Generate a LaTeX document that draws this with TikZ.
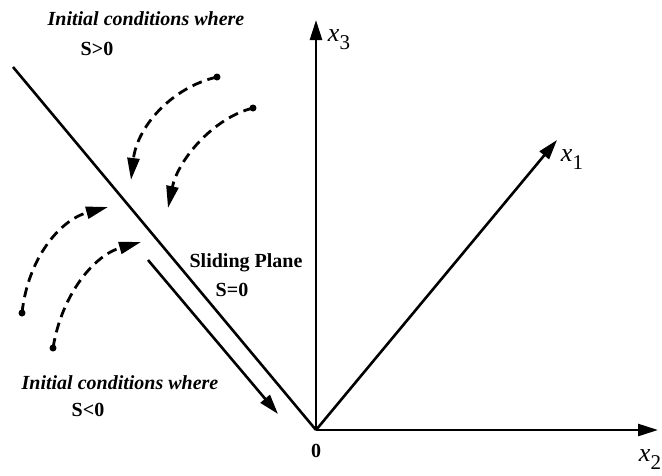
\documentclass[tikz,border=0pt]{standalone}
\usepackage{fontspec}
\setmainfont{Liberation Serif}
\usetikzlibrary{arrows.meta}
\tikzset{
  axis/.style={line width=2.6pt,-{Triangle[length=20pt,width=12pt]}},
  plane/.style={line width=2.6pt},
  traj/.style={line width=2.8pt,dash pattern=on 10pt off 6pt,-{Triangle[length=22pt,width=12pt]}},
  lab/.style={font=\bfseries\fontsize{20}{22}\selectfont,inner sep=0pt},
  ilab/.style={font=\bfseries\itshape\fontsize{20}{22}\selectfont,inner sep=0pt},
  axlab/.style={font=\itshape\fontsize{26}{28}\selectfont,inner sep=0pt},
  startdot/.style={circle,fill=black,inner sep=0pt,minimum size=7pt}
}
\newcommand{\axsub}[1]{\raisebox{-8pt}{\fontsize{21}{22}\selectfont\upshape #1}}
\begin{document}
\begin{tikzpicture}[x=1pt,y=-1pt]
\useasboundingbox (0,0) rectangle (662,475);
% axes
\coordinate (O) at (316,430);
\coordinate (X3) at (316,20);
\coordinate (X1) at (557,140);
\coordinate (X2) at (658,430);
\draw[axis] (O) -- (X3);
\draw[axis] (O) -- (X1);
\draw[axis] (O) -- (X2);
\node[axlab] (l3) at (339,40) {x\axsub{3}};
\node[axlab] (l1) at (572,160) {x\axsub{1}};
\node[axlab] (l2) at (650,460) {x\axsub{2}};
\node[lab] (zero) at (316,451) {0};
% sliding plane
\coordinate (P) at (13,67);
\draw[plane] (P) -- (O);
\coordinate (sa) at (148,260);
\coordinate (sb) at (278,414);
\draw[axis] (sa) -- (sb);
\node[lab] (sp) at (246,263) {Sliding Plane};
\node[lab] (s0) at (232,290) {S=0};
% labels
\node[ilab] (ic1) at (146,19) {Initial conditions where};
\node[lab] (sg) at (97,49) {S>0};
\node[ilab] (ic2) at (120,383) {Initial conditions where};
\node[lab] (sl) at (88,410) {S<0};
% trajectories
\node[startdot] (d1) at (217,77) {};
\node[startdot] (d2) at (253,108) {};
\node[startdot] (d3) at (22,313) {};
\node[startdot] (d4) at (53,348) {};
\coordinate (t1) at (131,180);
\coordinate (t2) at (168,208);
\coordinate (t3) at (108,207);
\coordinate (t4) at (141,242);
\draw[traj] (d1.center) .. controls (170,88) and (137,128) .. (t1);
\draw[traj] (d2.center) .. controls (213,118) and (178,160) .. (t2);
\draw[traj] (d3.center) .. controls (28,258) and (60,220) .. (t3);
\draw[traj] (d4.center) .. controls (62,293) and (95,255) .. (t4);
\end{tikzpicture}
\end{document}
